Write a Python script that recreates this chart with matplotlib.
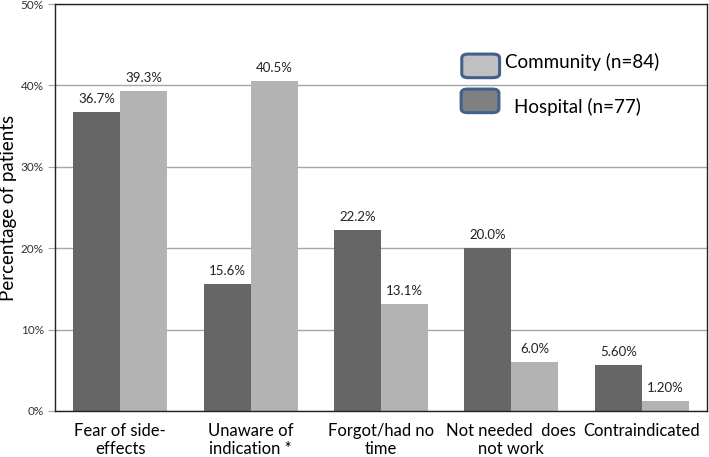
import numpy as np
import matplotlib.pyplot as plt
from matplotlib.patches import FancyBboxPatch

plt.rcParams['font.family'] = ['Lato', 'DejaVu Sans']

# Data
categories = ['Fear of side-\neffects', 'Unaware of\nindication *', 'Forgot/had no\ntime',
              'Not needed  does\nnot work', 'Contraindicated']
hospital = [36.7, 15.6, 22.2, 20.0, 5.6]
community = [39.3, 40.5, 13.1, 6.0, 1.2]
hospital_labels = ['36.7%', '15.6%', '22.2%', '20.0%', '5.60%']
community_labels = ['39.3%', '40.5%', '13.1%', '6.0%', '1.20%']

dark = '#666666'
light = '#b3b3b3'

fig = plt.figure(figsize=(7.09, 4.57), dpi=100)
ax = fig.add_axes([0.0776, 0.1007, 0.9194, 0.8905])

x = np.arange(len(categories))
w = 0.36
b1 = ax.bar(x - w / 2, hospital, w, color=dark, zorder=2)
b2 = ax.bar(x + w / 2, community, w, color=light, zorder=2)

for bar, lab in zip(b1, hospital_labels):
    ax.annotate(lab, (bar.get_x() + bar.get_width() / 2, bar.get_height()),
                xytext=(0, 5), textcoords='offset points', ha='center', va='bottom',
                fontsize=9.5, color='#222222')
for bar, lab in zip(b2, community_labels):
    ax.annotate(lab, (bar.get_x() + bar.get_width() / 2, bar.get_height()),
                xytext=(0, 5), textcoords='offset points', ha='center', va='bottom',
                fontsize=9.5, color='#222222')

ax.set_xlim(-0.5, len(categories) - 0.5)
ax.set_ylim(0, 50)
ax.set_yticks(np.arange(0, 51, 10))
ax.set_yticklabels([f'{v}%' for v in range(0, 51, 10)], fontsize=8.5, color='#333333')
ax.yaxis.grid(True, color='#a6a6a6', linewidth=1, zorder=0)
ax.tick_params(axis='y', length=5, color='#a6a6a6', pad=3)
ax.set_xticks(x)
ax.set_xticklabels(categories, fontsize=12, linespacing=1.1)
ax.tick_params(axis='x', length=0, pad=9)
for s in ax.spines.values():
    s.set_color('#222222')
    s.set_linewidth(1)
ax.set_ylabel('Percentage of patients', fontsize=13.5, labelpad=3)

# legend drawn as rounded boxes (axes fractions)
leg = [('Community (n=84)', '#c0c0c0', 0.624, 0.848, 0.691, 0.858),
       ('Hospital (n=77)', '#808080', 0.623, 0.762, 0.704, 0.748)]
for text, col, px, py, tx, ty in leg:
    p = FancyBboxPatch((px, py - 0.029), 0.058, 0.058,
                       boxstyle='round,pad=0,rounding_size=0.01',
                       transform=ax.transAxes, facecolor=col, edgecolor='#41618a',
                       linewidth=2.2, zorder=3)
    ax.add_patch(p)
    ax.text(tx, ty, text, transform=ax.transAxes, fontsize=13.5,
            va='center', ha='left', zorder=3)

fig.savefig('out.png', dpi=100)
